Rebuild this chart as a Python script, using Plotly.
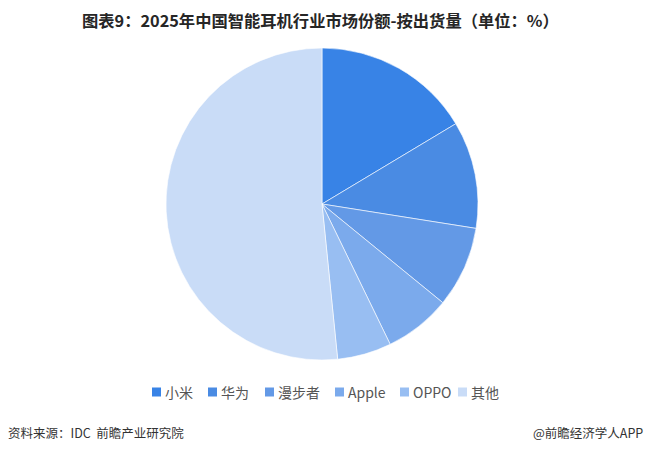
import plotly.graph_objects as go

labels = ["小米", "华为", "漫步者", "Apple", "OPPO", "其他"]
values = [16.4, 11.1, 8.4, 6.9, 5.6, 51.6]
colors = ["#3883E6", "#4A8BE3", "#6399E6", "#7BAAEC", "#98BEF2", "#C9DCF7"]

title_text = "图表9：2025年中国智能耳机行业市场份额-按出货量（单位：%）"
source_text = "资料来源：IDC  前瞻产业研究院"
brand_text = "@前瞻经济学人APP"

W, H = 649, 452
FONT = "Noto Sans CJK SC, Noto Sans, sans-serif"

def px(x):
    return x / W

def py(y):
    return (H - y) / H

fig = go.Figure(go.Pie(
    labels=labels, values=values, sort=False, direction="clockwise", rotation=0,
    marker=dict(colors=colors, line=dict(color="white", width=0.6)),
    textinfo="none", hoverinfo="label+percent",
    domain=dict(x=[px(166), px(478)], y=[py(360), py(48)]),
    showlegend=False,
))

annotations = [
    dict(text="<b>" + title_text + "</b>", x=px(320), y=py(20), xanchor="center",
         yanchor="middle", font=dict(size=16.3, color="#262626")),
    dict(text=source_text, x=px(6), y=py(432), xanchor="left", yanchor="middle",
         font=dict(size=12.5, color="#333333")),
    dict(text=brand_text, x=px(645), y=py(432), xanchor="right", yanchor="middle",
         font=dict(size=12.5, color="#333333")),
]
shapes = []

# custom legend (layout positions of each entry's square, in pixels)
legend_sq_x = [152, 208, 265, 335, 400, 458]
legend_y = 392
sq = 9
for lab, col, x0 in zip(labels, colors, legend_sq_x):
    shapes.append(dict(type="rect", xref="paper", yref="paper",
                       x0=px(x0), x1=px(x0 + sq), y0=py(legend_y + sq / 2), y1=py(legend_y - sq / 2),
                       fillcolor=col, line=dict(width=0)))
    annotations.append(dict(text=lab, x=px(x0 + sq + 2), y=py(legend_y), xanchor="left",
                            yanchor="middle", font=dict(size=14, color="#555555")))

for a in annotations:
    a.update(xref="paper", yref="paper", showarrow=False)

fig.update_layout(
    width=W, height=H,
    margin=dict(l=0, r=0, t=0, b=0),
    paper_bgcolor="white", plot_bgcolor="white",
    font=dict(family=FONT, color="#333333"),
    showlegend=False,
    annotations=annotations,
    shapes=shapes,
)

fig.write_html("out.html", config={"displayModeBar": False},
               post_script="document.body.style.margin='0px';document.body.style.overflow='hidden';")
